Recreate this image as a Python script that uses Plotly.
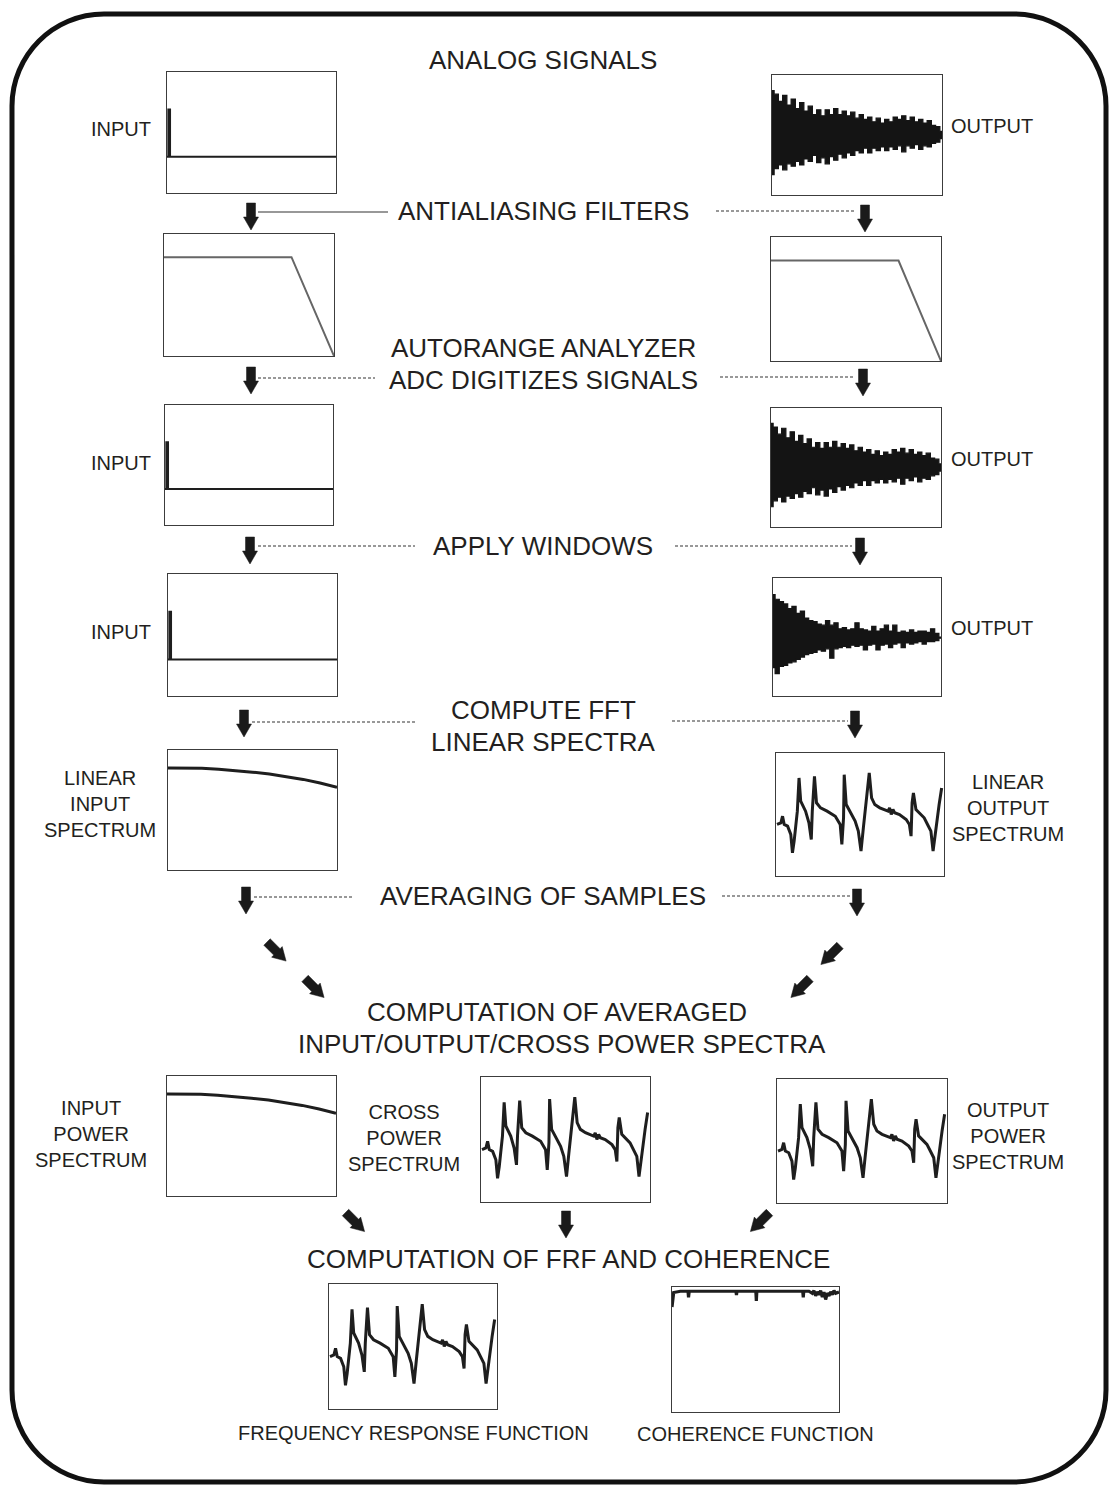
import plotly.graph_objects as go

W, H = 1116, 1488
INK = "#231f20"
FONT = "Liberation Sans, Arial, Helvetica, sans-serif"

# ---------------- signal data (x: % of record, y: % of panel height) ----------------
# hammer impulse on the input channel
impulse_t = [0, 0.8, 0.8, 1.8, 1.8, 100]
impulse_v = [30, 30, 69, 69, 30, 30]

# response record: upper / lower envelope of the ringing output
resp_t = [0, 2.5, 5, 7.5, 10, 12.5, 15, 17.5, 20, 22.5, 25, 27.5, 30, 32.5, 35, 37.5, 40,
          42.5, 45, 47.5, 50, 52.5, 55, 57.5, 60, 62.5, 65, 67.5, 70, 72.5, 75, 77.5, 80,
          82.5, 85, 87.5, 90, 92.5, 95, 97.5, 100]
resp_upper = [87, 84, 78, 83, 75, 80, 72, 77, 70, 74, 67, 71, 66, 71, 67, 72, 67, 70, 66, 69,
              64, 67, 63, 65, 61, 64, 60, 63, 61, 65, 63, 66, 62, 65, 61, 63, 60, 62, 58, 57, 53]
resp_lower = [17, 22, 25, 21, 26, 24, 28, 25, 30, 28, 33, 27, 31, 26, 32, 29, 34, 31, 35, 33,
              37, 35, 39, 35, 39, 37, 40, 37, 40, 38, 41, 36, 41, 39, 42, 38, 41, 40, 43, 44, 47]

# same record after the exponential window
win_upper = [86, 82, 80, 78, 74, 76, 70, 72, 66, 64, 63, 61, 60, 64, 60, 62, 57, 58, 56, 57,
             62, 57, 56, 55, 59, 55, 57, 60, 55, 60, 54, 55, 54, 56, 54, 55, 55, 54, 57, 53, 50]
win_lower = [24, 19, 25, 26, 28, 29, 31, 33, 35, 36, 37, 39, 38, 40, 32, 40, 41, 42, 41, 43,
             42, 43, 39, 43, 44, 39, 43, 44, 41, 44, 45, 41, 45, 44, 45, 46, 44, 46, 46, 47, 49]

# anti-aliasing filter magnitude
filter_f = [0, 75, 100]
filter_mag = [81, 81, 0]

# input (force) spectrum: smooth roll-off
in_spec_f = [0, 10, 20, 30, 40, 50, 60, 70, 80, 90, 100]
in_spec_v = [85, 85, 84.8, 84, 83, 81.5, 80, 78, 75.5, 72.5, 69]

# output / cross / FRF spectra: five resonances with anti-resonances
frf_f = [0.6, 2.9, 3.9, 4.9, 6.9, 8.8, 9.8, 10.8, 12.7, 13.7, 14.7, 17.6, 19.6, 21.0, 21.6,
         22.9, 24.1, 26.5, 30.4, 35.3, 38.2, 39.2, 40.2, 40.6, 41.8, 44.1, 47.1, 49.0, 50.6,
         52.0, 53.9, 55.5, 56.9, 58.8, 61.8, 64.7, 66.7, 67.6, 68.6, 69.6, 70.6, 73.5, 77.5,
         79.4, 80.4, 81.0, 81.8, 83.3, 85.3, 88.2, 90.2, 92.2, 93.5, 95.1, 97.1, 98.6]
frf_v = [41.9, 43.2, 48.6, 41.9, 40.5, 33.8, 18.9, 28.4, 52.7, 79.7, 60.8, 52.7, 43.2, 29.7,
         52.7, 81.1, 59.5, 55.4, 52.7, 48.6, 41.9, 25.7, 47.3, 82.4, 58.1, 52.7, 44.6, 36.5,
         20.3, 39.2, 60.8, 83.8, 63.5, 58.1, 55.4, 54.1, 52.7, 55.4, 50.0, 54.1, 51.4, 50.0,
         45.9, 41.9, 32.4, 59.5, 67.6, 54.1, 51.4, 47.3, 41.9, 36.5, 20.3, 39.2, 58.1, 71.6]

# coherence: close to unity with a few drop-outs at anti-resonances
coh_f = [0, 1, 5, 9.6, 9.9, 10.3, 30, 38.3, 38.6, 38.9, 50.2, 50.5, 50.8, 70, 78.3, 78.6,
         78.9, 82, 84, 85, 86, 87, 88, 89, 90, 91, 92, 93, 94, 95, 96, 97, 98, 100]
coh_v = [84, 95.6, 96.6, 96.6, 91.7, 96.6, 96.6, 96.6, 93.5, 96.6, 96.6, 88.8, 96.6, 96.6,
         96.6, 91.7, 96.6, 96.6, 95, 97, 93, 96, 94, 97, 92, 96, 90, 95, 93, 96, 94, 97, 95, 96]

# ---------------- panel frames (pixel boxes: x0, y0, x1, y1) ----------------
panels = [
    ("in_raw",   (167, 72, 336, 193)),
    ("out_raw",  (772, 75, 942, 195)),
    ("in_filt",  (164, 234, 334, 356)),
    ("out_filt", (771, 237, 941, 361)),
    ("in_adc",   (165, 405, 333, 525)),
    ("out_adc",  (771, 408, 941, 527)),
    ("in_win",   (168, 574, 337, 696)),
    ("out_win",  (773, 578, 941, 696)),
    ("in_lin",   (168, 750, 337, 870)),
    ("out_lin",  (776, 753, 944, 876)),
    ("in_pow",   (167, 1076, 336, 1196)),
    ("cross",    (481, 1077, 650, 1202)),
    ("out_pow",  (777, 1079, 947, 1203)),
    ("frf",      (329, 1284, 497, 1409)),
    ("coh",      (672, 1287, 839, 1412)),
]

fig = go.Figure()
layout_axes = {}
axis_of = {}
for i, (name, (x0, y0, x1, y1)) in enumerate(panels):
    n = i + 2
    axis_of[name] = (f"x{n}", f"y{n}")
    common = dict(range=[0, 100], showline=True, mirror=True, linecolor="#3c3c3c",
                  linewidth=1.4, showgrid=False, zeroline=False, showticklabels=False,
                  ticks="", fixedrange=True)
    layout_axes[f"xaxis{n}"] = dict(domain=[x0 / W, x1 / W], anchor=f"y{n}", **common)
    layout_axes[f"yaxis{n}"] = dict(domain=[1 - y1 / H, 1 - y0 / H], anchor=f"x{n}", **common)


def line(name, xs, ys, color="#1e1e1e", width=2.5):
    xa, ya = axis_of[name]
    fig.add_trace(go.Scatter(x=xs, y=ys, mode="lines", xaxis=xa, yaxis=ya,
                             line=dict(color=color, width=width), hoverinfo="skip",
                             showlegend=False))


def band(name, xs, upper, lower):
    # filled ringing record, drawn with vertical-edged spikes
    xa, ya = axis_of[name]
    fig.add_trace(go.Scatter(x=xs + xs[::-1], y=upper + lower[::-1], mode="lines",
                             fill="toself", fillcolor="#141414", xaxis=xa, yaxis=ya,
                             line=dict(color="#141414", width=1.2, shape="hvh"),
                             hoverinfo="skip", showlegend=False))


for nm in ("in_raw", "in_adc", "in_win"):
    line(nm, impulse_t, impulse_v, width=2)
band("out_raw", resp_t, resp_upper, resp_lower)
band("out_adc", resp_t, resp_upper, resp_lower)
band("out_win", resp_t, win_upper, win_lower)
line("in_filt", filter_f, filter_mag, color="#666", width=2)
line("out_filt", filter_f, filter_mag, color="#666", width=2)
line("in_lin", in_spec_f, in_spec_v, width=3)
line("in_pow", in_spec_f, in_spec_v, width=3)
for nm in ("out_lin", "cross", "out_pow", "frf"):
    line(nm, frf_f, frf_v, width=3)
line("coh", coh_f, coh_v, width=3.2)

# ---------------- flow-chart decorations in a full-page pixel frame ----------------
shapes = []

# rounded outer border
L, R, T, B, r = 12, 1106, 14, 1482, 92
k = 0.5523 * r
border = (f"M {L+r},{T} L {R-r},{T} C {R-r+k},{T} {R},{T+r-k} {R},{T+r} "
          f"L {R},{B-r} C {R},{B-r+k} {R-r+k},{B} {R-r},{B} "
          f"L {L+r},{B} C {L+r-k},{B} {L},{B-r+k} {L},{B-r} "
          f"L {L},{T+r} C {L},{T+r-k} {L+r-k},{T} {L+r},{T} Z")
shapes.append(dict(type="path", path=border, xref="x", yref="y",
                   line=dict(color="#111", width=5)))


def block_arrow(x, y, dx, dy, length=27, shaft_w=9, shaft_len=14, head_w=15):
    nx, ny = -dy, dx

    def p(a, b):
        return (x + dx * a + nx * b, y + dy * a + ny * b)
    hw, hh = shaft_w / 2, head_w / 2
    pts = [p(0, -hw), p(shaft_len, -hw), p(shaft_len, -hh), p(length, 0),
           p(shaft_len, hh), p(shaft_len, hw), p(0, hw)]
    path = "M " + " L ".join(f"{a:.1f},{b:.1f}" for a, b in pts) + " Z"
    shapes.append(dict(type="path", path=path, xref="x", yref="y",
                       fillcolor="#1a1a1a", line=dict(color="#1a1a1a", width=0.5)))


D = 0.7071
down_arrows = [(251, 203), (865, 205), (251, 367), (863, 369), (250, 537), (860, 538),
               (244, 710), (855, 711), (246, 887), (857, 889), (566, 1211)]
for ax_, ay_ in down_arrows:
    block_arrow(ax_, ay_, 0, 1)
for ax_, ay_ in [(267, 942), (305, 978.5), (345.5, 1212.5)]:
    block_arrow(ax_, ay_, D, D)
for ax_, ay_ in [(840, 945.5), (810, 978.5), (769.5, 1212.5)]:
    block_arrow(ax_, ay_, -D, D)

leaders = [(258, 388, 212, "solid"), (716, 855, 211, "3px,2px"),
           (258, 375, 378, "3px,2px"), (720, 855, 377, "3px,2px"),
           (258, 415, 546, "3px,2px"), (675, 852, 546, "3px,2px"),
           (252, 415, 722, "3px,2px"), (672, 848, 721, "3px,2px"),
           (254, 352, 897, "3px,2px"), (722, 850, 896, "3px,2px")]
for xa0, xa1, yy, dash in leaders:
    shapes.append(dict(type="line", x0=xa0, x1=xa1, y0=yy, y1=yy, xref="x", yref="y",
                       line=dict(color="#333", width=1.2, dash=dash)))

# ---------------- text ----------------
headings = [
    ("ANALOG SIGNALS", 543, 60), ("ANTIALIASING FILTERS", 543, 211),
    ("AUTORANGE ANALYZER", 543, 348), ("ADC DIGITIZES SIGNALS", 543, 380),
    ("APPLY WINDOWS", 543, 546), ("COMPUTE FFT", 543, 710), ("LINEAR SPECTRA", 543, 742),
    ("AVERAGING OF SAMPLES", 543, 896), ("COMPUTATION OF AVERAGED", 557, 1012),
    ("INPUT/OUTPUT/CROSS POWER SPECTRA", 562, 1044),
    ("COMPUTATION OF FRF AND COHERENCE", 568, 1259),
]
labels = [
    ("INPUT", 121, 129), ("OUTPUT", 992, 126), ("INPUT", 121, 463), ("OUTPUT", 992, 459),
    ("INPUT", 121, 632), ("OUTPUT", 992, 628),
    ("LINEAR<br>INPUT<br>SPECTRUM", 100, 804), ("LINEAR<br>OUTPUT<br>SPECTRUM", 1008, 808),
    ("INPUT<br>POWER<br>SPECTRUM", 91, 1134), ("CROSS<br>POWER<br>SPECTRUM", 404, 1138),
    ("OUTPUT<br>POWER<br>SPECTRUM", 1008, 1136),
    ("FREQUENCY RESPONSE FUNCTION", 413, 1433), ("COHERENCE FUNCTION", 755, 1434),
]
annotations = []
for txt, x, y in headings:
    annotations.append(dict(text=txt, x=x, y=y, xref="x", yref="y", showarrow=False,
                            font=dict(family=FONT, size=26, color=INK)))
for txt, x, y in labels:
    annotations.append(dict(text=txt, x=x, y=y, xref="x", yref="y", showarrow=False,
                            font=dict(family=FONT, size=20, color=INK)))

fig.update_layout(
    width=W, height=H, margin=dict(l=0, r=0, t=0, b=0),
    paper_bgcolor="white", plot_bgcolor="rgba(0,0,0,0)", showlegend=False,
    xaxis=dict(domain=[0, 1], range=[0, W], visible=False, fixedrange=True),
    yaxis=dict(domain=[0, 1], range=[H, 0], visible=False, fixedrange=True),
    shapes=shapes, annotations=annotations, **layout_axes,
)
# keep the page frame axis alive so shapes and text use pixel coordinates
fig.add_trace(go.Scatter(x=[0], y=[0], mode="markers", marker=dict(opacity=0),
                         hoverinfo="skip", showlegend=False))

fig.write_html("out.html", config={"displayModeBar": False})
